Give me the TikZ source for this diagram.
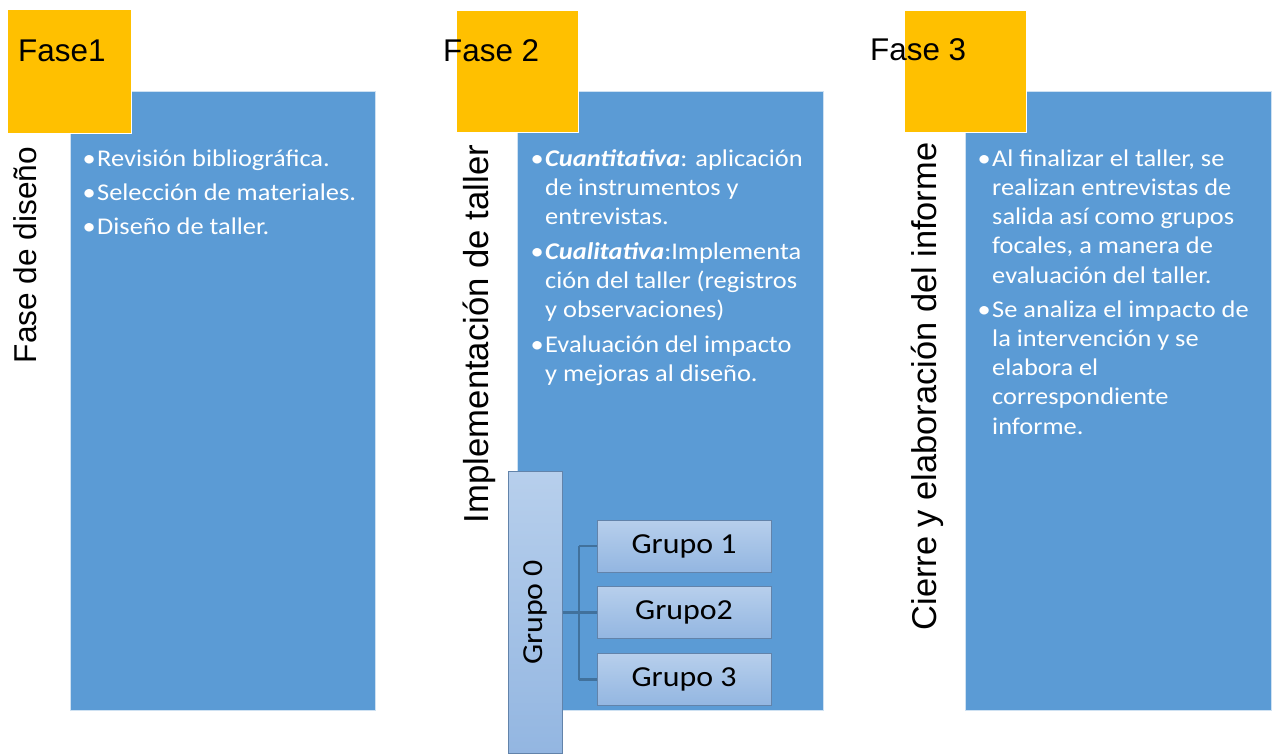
\documentclass[tikz,border=0pt]{standalone}
\usepackage{fontspec}
\newfontfamily\fCarl[FakeStretch=1.1]{Carlito}
\newfontfamily\fAri{Liberation Sans}
\definecolor{bluebox}{HTML}{5B9BD5}
\definecolor{orangebox}{HTML}{FFC000}
\definecolor{connc}{HTML}{41719C}
\definecolor{gtop}{HTML}{B7CFEC}
\definecolor{gbot}{HTML}{93B6E1}
\definecolor{gborder}{HTML}{6283AA}
\begin{document}
\begin{tikzpicture}[x=1pt,y=-1pt,
  panel/.style={draw=white!70!bluebox, line width=0.8pt, fill=bluebox, inner sep=0pt, anchor=north west},
  tab/.style={draw=white, line width=1.2pt, fill=orangebox, inner sep=0pt, anchor=north west},
  title/.style={font=\fAri\fontsize{31.4}{36}\selectfont, text=black, inner sep=0pt, anchor=base west},
  vlabel/.style={text=black, inner sep=0pt, anchor=base, rotate=90},
  bul/.style={font=\fCarl\fontsize{24}{29.2}\selectfont, text=white, align=left, inner sep=0pt, anchor=north west},
  gbox/.style={draw=gborder, line width=1pt, top color=gtop, bottom color=gbot, inner sep=0pt,
    font=\fCarl\fontsize{29}{34}\selectfont, text=black},
  conn/.style={draw=connc, line width=2.4pt}
]
\useasboundingbox (0,0) rectangle (1274,753);
\fill[white] (0,0) rectangle (1274,753);

% blue panels
\node[panel, minimum width=305pt, minimum height=619pt] (b1) at (70,91) {};
\node[panel, minimum width=306pt, minimum height=619pt] (b2) at (517,91) {};
\node[panel, minimum width=306pt, minimum height=619pt] (b3) at (965,91) {};

% orange tabs
\node[tab, minimum width=124pt, minimum height=124pt] (o1) at (6.5,8.5) {};
\node[tab, minimum width=122pt, minimum height=122pt] (o2) at (455.5,9.5) {};
\node[tab, minimum width=122pt, minimum height=122pt] (o3) at (903.5,9.5) {};

% titles
\node[title] (f1) at (18,61) {Fase1};
\node[title] (f2) at (443,61) {Fase 2};
\node[title] (f3) at (870,60) {Fase 3};

% vertical labels
\node[vlabel, font=\fAri\fontsize{31.6}{36}\selectfont] (v1) at (36.5,255) {Fase de diseño};
\node[vlabel, font=\fAri\fontsize{34.7}{40}\selectfont] (v2) at (488,334) {Implementación de taller};
\node[vlabel, font=\fAri\fontsize{34.4}{40}\selectfont] (v3) at (936,386.5) {Cierre y elaboración del informe};

% bullet texts
\node[bul] (t1) at (97,145.7) {\strut\llap{•\hspace{1.5pt}}Revisión bibliográfica.\\[5pt]
\llap{•\hspace{1.5pt}}Selección de materiales.\\[5pt]
\llap{•\hspace{1.5pt}}Diseño de taller.};

\node[bul] (t2) at (545,145.7) {\strut\llap{•\hspace{1.5pt}}\textbf{\textit{Cuantitativa}}: aplicación\\
de instrumentos y\\
entrevistas.\\[5.5pt]
\llap{•\hspace{1.5pt}}\textbf{\textit{Cualitativa}}:Implementa\\
ción del taller (registros\\
y observaciones)\\[5.5pt]
\llap{•\hspace{1.5pt}}Evaluación del impacto\\
y mejoras al diseño.};

\node[bul] (t3) at (992,145.7) {\strut\llap{•\hspace{1.5pt}}Al finalizar el taller, se\\
realizan entrevistas de\\
salida así como grupos\\
focales, a manera de\\
evaluación del taller.\\[5pt]
\llap{•\hspace{1.5pt}}Se analiza el impacto de\\
la intervención y se\\
elabora el\\
correspondiente\\
informe.};

% group boxes
\node[gbox, minimum width=54pt, minimum height=282pt] (g0) at (535,612.5) {\rotatebox{90}{Grupo 0}};
\node[gbox, minimum width=174pt, minimum height=52pt] (g1) at (684,546) {Grupo 1};
\node[gbox, minimum width=174pt, minimum height=52pt] (g2) at (684,612.5) {Grupo2};
\node[gbox, minimum width=174pt, minimum height=52pt] (g3) at (684,679.5) {Grupo 3};

% connectors
\coordinate (jn) at (579,612.5);
\draw[conn] (g0.east) -- (jn);
\draw[conn] (jn |- g1.west) -- (jn |- g3.west);
\draw[conn] (jn |- g1.west) -- (g1.west);
\draw[conn] (jn) -- (g2.west);
\draw[conn] (jn |- g3.west) -- (g3.west);
\end{tikzpicture}
\end{document}
